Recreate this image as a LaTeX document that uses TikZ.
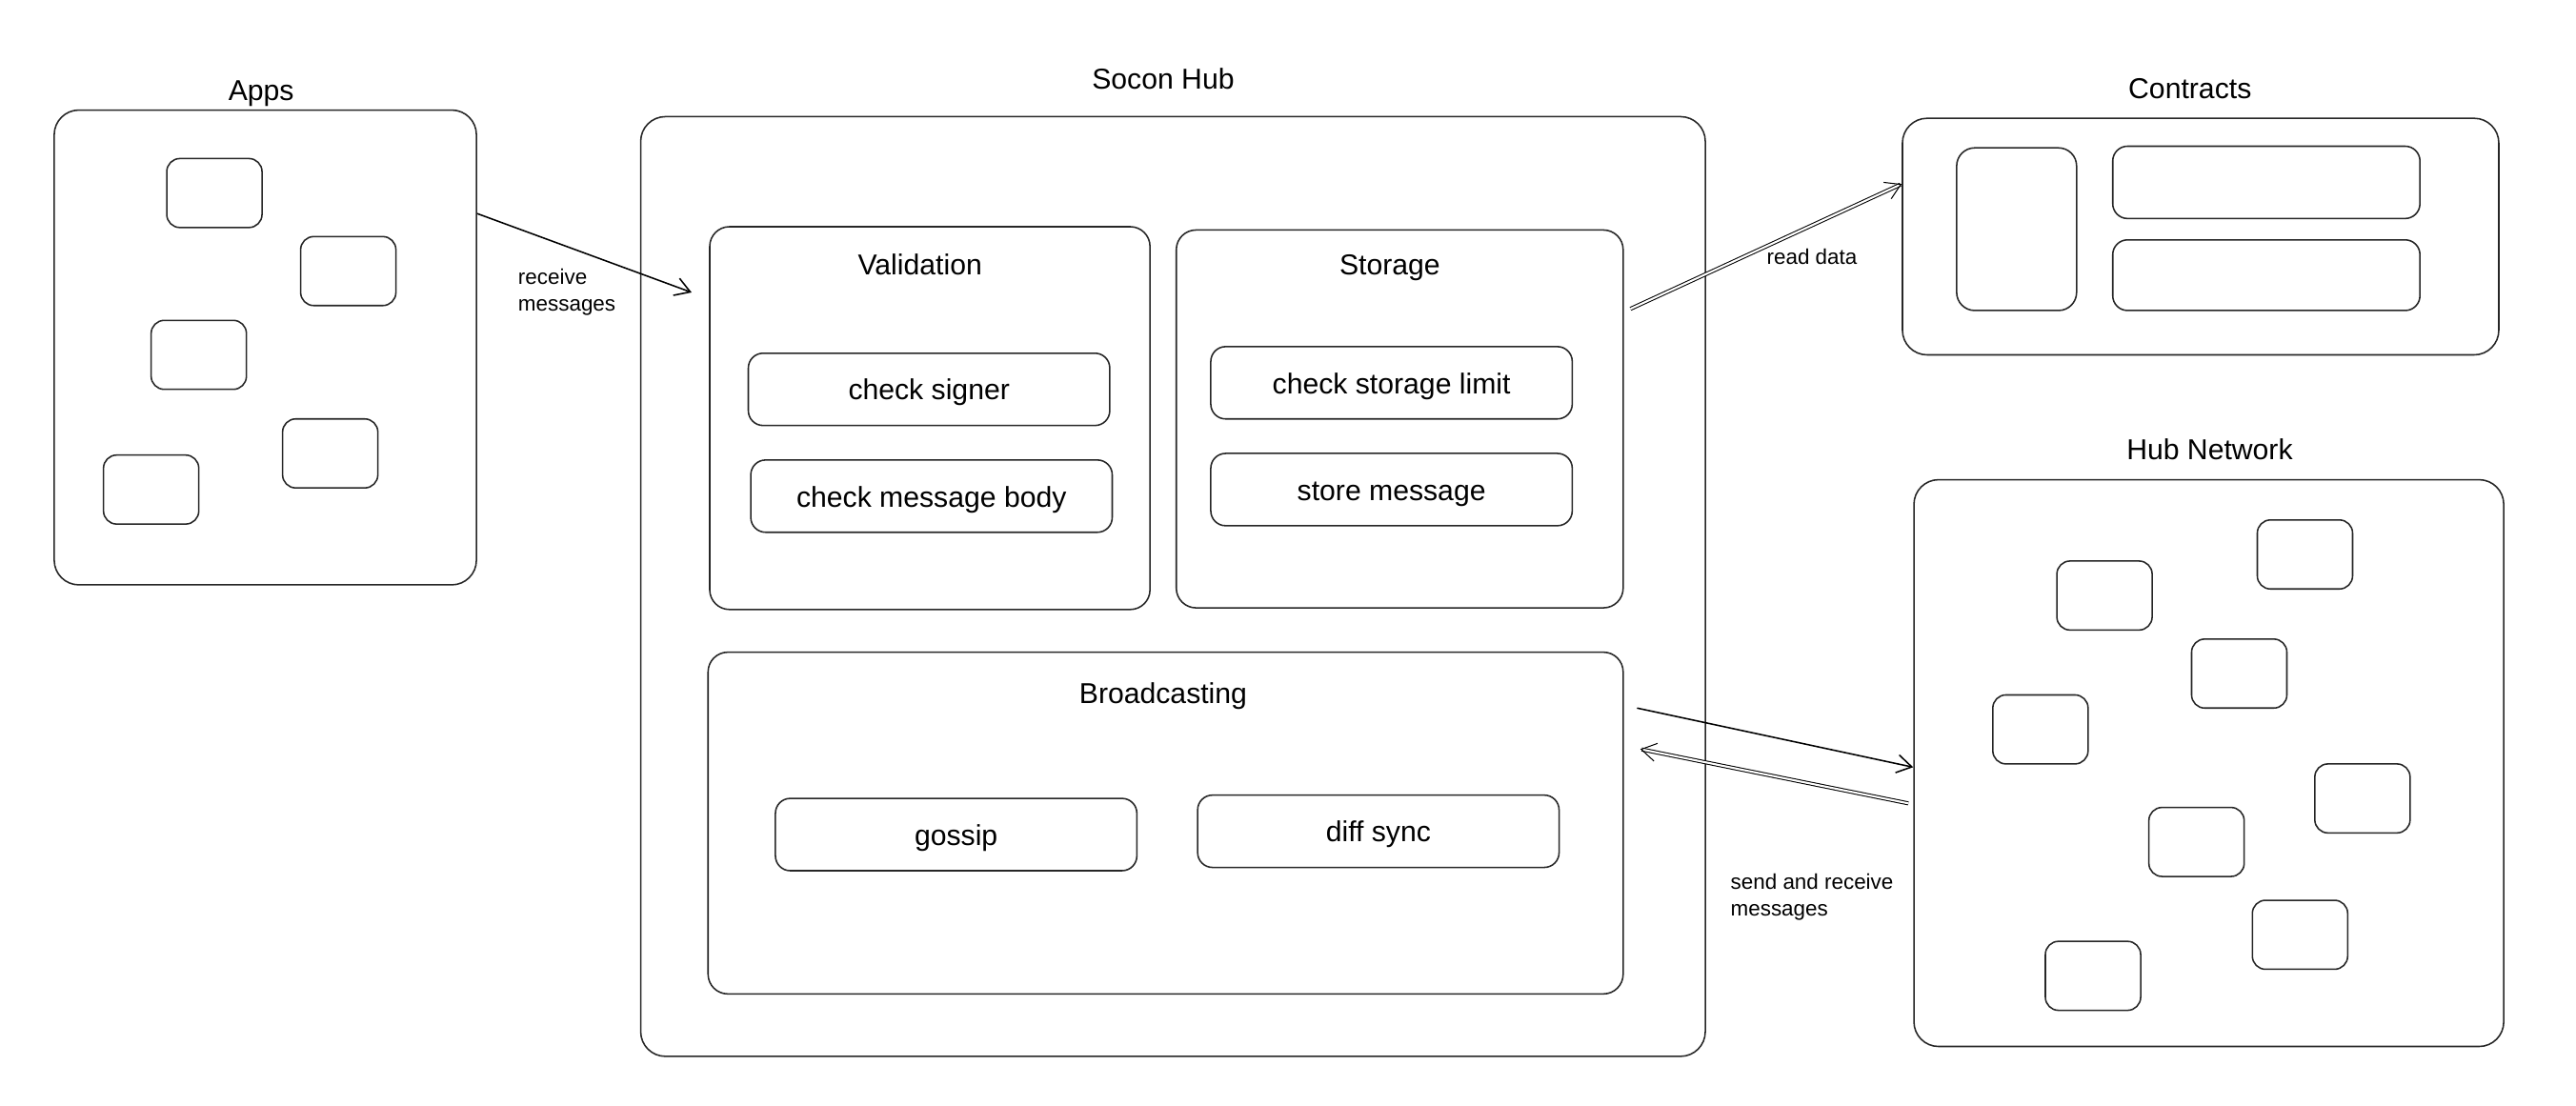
\documentclass[tikz,border=0pt]{standalone}
\usepackage{fontspec}
\setmainfont{Liberation Sans}
\usepackage{xcolor}
\usepackage{tikz}
\usetikzlibrary{arrows.meta,positioning}

\begin{document}
\begin{tikzpicture}[x=1pt, y=-1pt, >={Straight Barb[length=9pt,width=11pt]}, line width=0.9pt,
    panel/.style={rectangle, rounded corners=15pt, draw=black!85, inner sep=0pt},
    part/.style={rectangle, rounded corners=12pt, draw=black!85, inner sep=0pt},
    item/.style={rectangle, rounded corners=9pt, draw=black!85, minimum width=220pt, minimum height=44pt, inner sep=0pt, text height=15pt, text depth=2pt, font=\fontsize{17.5}{21}\selectfont},
    block/.style={rectangle, rounded corners=8pt, draw=black!85, minimum width=58pt, minimum height=42pt, inner sep=0pt},
    title/.style={font=\fontsize{17.5}{21}\selectfont, inner sep=0pt, text height=14pt, text depth=2pt},
    note/.style={font=\fontsize{13}{16}\selectfont, align=left, anchor=west, inner sep=0pt}]
    \useasboundingbox (0,0) rectangle (1568,673);
    \node (apps) [panel, minimum width=257pt, minimum height=289pt] at (161.5,211.5) {};
    \node (appstitle) [title] at (159,55) {Apps};
    \node (app1) [block] at (130.5,117.5) {};
    \node (app2) [block] at (212,165) {};
    \node (app3) [block] at (121,216) {};
    \node (app4) [block] at (201,276) {};
    \node (app5) [block] at (92,298) {};
    \node (hub) [panel, minimum width=648pt, minimum height=572pt] at (714,357) {};
    \node (hubtitle) [title] at (708,48) {Socon Hub};
    \node (validation) [part, minimum width=268pt, minimum height=233pt] at (566,254.5) {};
    \node (valtitle) [title] at (560,161) {Validation};
    \node (signer) [item] at (565.5,237) {check signer};
    \node (body) [item] at (567,302) {check message body};
    \node (storage) [part, minimum width=272pt, minimum height=230pt] at (852,255) {};
    \node (stotitle) [title] at (846,161) {Storage};
    \node (limit) [item] at (847,233) {check storage limit};
    \node (store) [item] at (847,298) {store message};
    \node (broadcast) [part, minimum width=557pt, minimum height=208pt] at (709.5,501) {};
    \node (brotitle) [title] at (708,422) {Broadcasting};
    \node (gossip) [item] at (582,508) {gossip};
    \node (diffsync) [item] at (839,506) {diff sync};
    \node (contracts) [panel, minimum width=363pt, minimum height=144pt] at (1339.5,144) {};
    \node (contitle) [title] at (1333,54) {Contracts};
    \node (ctall) [part, rounded corners=11pt, minimum width=73pt, minimum height=99pt] at (1227.5,139.5) {};
    \node (cwide1) [part, rounded corners=9pt, minimum width=187pt, minimum height=44pt] at (1379.5,111) {};
    \node (cwide2) [part, rounded corners=9pt, minimum width=187pt, minimum height=43pt] at (1379.5,167.5) {};
    \node (network) [panel, minimum width=359pt, minimum height=345pt] at (1344.5,464.5) {};
    \node (nettitle) [title] at (1345,274) {Hub Network};
    \node (peer1) [block] at (1281,362.5) {};
    \node (peer2) [block] at (1403,337.5) {};
    \node (peer3) [block] at (1363,410) {};
    \node (peer4) [block] at (1242,444) {};
    \node (peer5) [block] at (1438,486) {};
    \node (peer6) [block] at (1337,512.5) {};
    \node (peer7) [block] at (1400,569) {};
    \node (peer8) [block] at (1274,594) {};
    \coordinate (inlet) at (421,178);
    \node (receive) [note] at (315,178) {receive\\messages};
    \node (readdata) [note] at (1075,156) {read data};
    \node (sendrecv) [note] at (1053,546) {send and receive\\messages};
    \draw[->] ([yshift=81.5pt]apps.east) -- (inlet);
    \draw[->, double, double distance=1.2pt, line width=0.6pt] ([xshift=4pt,yshift=67pt]storage.east) -- ([yshift=32pt]contracts.west);
    \draw[->] ([xshift=8pt,yshift=70pt]broadcast.east) -- ([yshift=-2.5pt]network.west);
    \draw[->, double, double distance=1.2pt, line width=0.6pt] ([xshift=-3pt,yshift=-24.5pt]network.west) -- ([xshift=10pt,yshift=45pt]broadcast.east);
  \end{tikzpicture}
\end{document}
